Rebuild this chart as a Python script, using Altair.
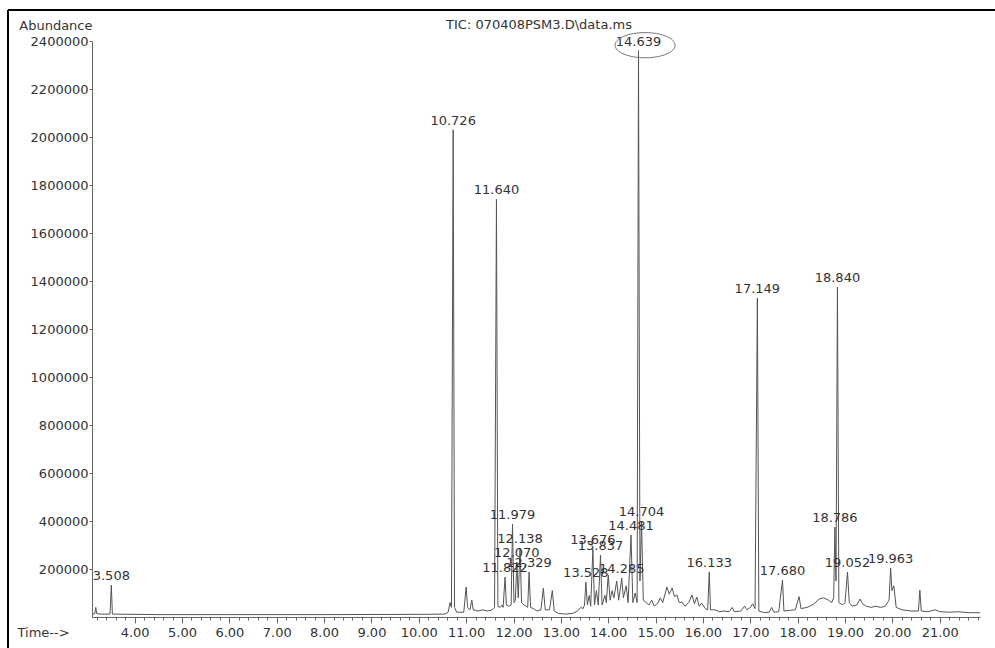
import altair as alt
import pandas as pd

# Total ion chromatogram: retention time (min) against abundance
trace_time = [
    3.12, 3.16, 3.18, 3.20, 3.30, 3.48, 3.508, 3.53, 4.50, 6.00, 8.00, 10.00,
    10.55, 10.62, 10.66, 10.69, 10.726, 10.755, 10.80, 10.95, 11.00, 11.03,
    11.08, 11.12, 11.15, 11.25, 11.35, 11.45, 11.55, 11.60, 11.640, 11.67,
    11.72, 11.76, 11.78, 11.822, 11.85, 11.90, 11.95, 11.979, 12.01, 12.04,
    12.070, 12.10, 12.138, 12.17, 12.22, 12.27, 12.30, 12.329, 12.36, 12.42,
    12.50, 12.58, 12.63, 12.67, 12.76, 12.82, 12.86, 12.95, 13.10, 13.25,
    13.35, 13.42, 13.47, 13.50, 13.528, 13.56, 13.60, 13.63, 13.676, 13.71,
    13.75, 13.79, 13.837, 13.87, 13.93, 13.96, 14.00, 14.04, 14.08, 14.12,
    14.18, 14.22, 14.285, 14.32, 14.38, 14.42, 14.481, 14.52, 14.57, 14.61,
    14.639, 14.67, 14.704, 14.74, 14.80, 14.86, 14.92, 14.97, 15.05, 15.10,
    15.15, 15.24, 15.29, 15.35, 15.40, 15.45, 15.50, 15.56, 15.62, 15.70,
    15.77, 15.82, 15.87, 15.92, 15.97, 16.05, 16.10, 16.133, 16.16, 16.25,
    16.35, 16.45, 16.55, 16.62, 16.66, 16.80, 16.88, 16.93, 17.00, 17.05,
    17.10, 17.149, 17.18, 17.30, 17.40, 17.45, 17.50, 17.60, 17.680, 17.71,
    17.85, 17.95, 18.03, 18.07, 18.20, 18.35, 18.45, 18.55, 18.65, 18.72,
    18.76, 18.786, 18.81, 18.840, 18.87, 18.95, 19.00, 19.052, 19.09, 19.15,
    19.25, 19.32, 19.37, 19.45, 19.55, 19.65, 19.75, 19.85, 19.93, 19.963,
    19.99, 20.03, 20.08, 20.20, 20.40, 20.55, 20.58, 20.61, 20.75, 20.90,
    21.00, 21.20, 21.40, 21.60, 21.85,
]
trace_abundance = [
    12000, 14000, 40000, 14000, 12000, 12000, 133000, 12000, 10000, 10000, 10000, 11000,
    12000, 20000, 60000, 40000, 2030000, 40000, 20000, 20000, 125000, 40000,
    30000, 70000, 30000, 25000, 30000, 25000, 30000, 40000, 1740000, 45000,
    40000, 50000, 40000, 166000, 50000, 45000, 50000, 387000, 60000, 70000,
    229000, 80000, 287000, 60000, 50000, 45000, 40000, 187000, 40000, 35000,
    25000, 30000, 120000, 30000, 30000, 110000, 25000, 15000, 12000, 15000,
    25000, 40000, 35000, 50000, 146000, 50000, 90000, 45000, 283000, 50000,
    110000, 50000, 258000, 50000, 90000, 60000, 175000, 70000, 110000, 80000,
    150000, 70000, 162000, 80000, 130000, 60000, 342000, 60000, 100000, 60000,
    2360000, 150000, 400000, 70000, 60000, 50000, 70000, 45000, 58000, 80000,
    60000, 125000, 95000, 121000, 85000, 92000, 60000, 62000, 45000, 60000,
    92000, 55000, 83000, 45000, 58000, 35000, 30000, 187000, 30000, 30000,
    22000, 25000, 22000, 40000, 22000, 25000, 45000, 30000, 40000, 55000,
    35000, 1329000, 25000, 18000, 20000, 40000, 20000, 22000, 154000, 25000,
    28000, 30000, 85000, 35000, 40000, 55000, 75000, 80000, 70000, 60000,
    80000, 375000, 150000, 1375000, 60000, 50000, 60000, 187000, 60000, 45000,
    50000, 75000, 55000, 45000, 40000, 45000, 40000, 45000, 70000, 204000,
    110000, 130000, 40000, 30000, 25000, 25000, 112000, 25000, 22000, 30000,
    22000, 20000, 22000, 18000, 18000,
]

# Integrated peaks with their apex heights
peak_times = [
    3.508, 10.726, 11.640, 11.822, 11.979, 12.070, 12.138, 12.329, 13.528,
    13.676, 13.837, 14.285, 14.481, 14.639, 14.704, 16.133, 17.149, 17.680,
    18.786, 18.840, 19.052, 19.963,
]
peak_heights = [
    133000, 2030000, 1740000, 166000, 387000, 229000, 287000, 187000, 146000,
    283000, 258000, 162000, 342000, 2360000, 400000, 187000, 1329000, 154000,
    375000, 1375000, 187000, 204000,
]
highlighted_peak = "14.639"

x_major_ticks = list(range(4, 22))
x_minor_ticks = [round(3.2 + 0.2 * i, 1) for i in range(94)]
y_ticks = [200000 * k for k in range(1, 13)]

trace = pd.DataFrame({"time": trace_time, "abundance": trace_abundance})
peaks = pd.DataFrame({
    "time": peak_times,
    "abundance": peak_heights,
    "label": [f"{t:.3f}" for t in peak_times],
})
single = pd.DataFrame({"item": ["sheet"]})

FONT = "DejaVu Sans"
INK = "#333333"
AXIS_GREY = "#666666"

x_scale = alt.Scale(domain=[3.10, 21.85], nice=False, zero=False)
y_scale = alt.Scale(domain=[0, 2400000], nice=False, zero=True)

trace_line = alt.Chart(trace).mark_line(
    color="#555555", strokeWidth=1, interpolate="linear"
).encode(
    x=alt.X(
        "time:Q",
        scale=x_scale,
        axis=alt.Axis(
            orient="bottom",
            values=x_major_ticks,
            format=".2f",
            grid=False,
            domain=True,
            domainColor=AXIS_GREY,
            tickColor=AXIS_GREY,
            tickSize=6,
            labelFont=FONT,
            labelFontSize=13,
            labelColor=INK,
            labelPadding=3,
            labelFlush=False,
            labelOverlap=False,
            title="Time-->",
            titleFont=FONT,
            titleFontSize=13,
            titleFontWeight="normal",
            titleColor=INK,
            titleAlign="left",
            titleBaseline="middle",
            titleX=-75,
            titleY=15,
        ),
    ),
    y=alt.Y(
        "abundance:Q",
        scale=y_scale,
        axis=alt.Axis(
            orient="left",
            values=y_ticks,
            format="d",
            grid=False,
            domain=True,
            domainColor=AXIS_GREY,
            tickColor=AXIS_GREY,
            tickSize=3,
            labelFont=FONT,
            labelFontSize=13,
            labelColor=INK,
            labelPadding=1,
            labelOverlap=False,
            title="Abundance",
            titleFont=FONT,
            titleFontSize=13,
            titleFontWeight="normal",
            titleColor=INK,
            titleAngle=0,
            titleAlign="right",
            titleBaseline="middle",
            titleX=0,
            titleY=-16,
        ),
    ),
)

# Peak retention-time labels; this layer also carries the minor time ticks
peak_labels = alt.Chart(peaks).mark_text(
    baseline="bottom", align="center", dy=-2, font=FONT, fontSize=13, color=INK
).encode(
    x=alt.X(
        "time:Q",
        scale=x_scale,
        axis=alt.Axis(
            orient="bottom",
            values=x_minor_ticks,
            labels=False,
            domain=False,
            grid=False,
            tickColor=AXIS_GREY,
            tickSize=3,
            title=None,
        ),
    ),
    y=alt.Y("abundance:Q", scale=y_scale, axis=None),
    text="label:N",
)

# Hand-drawn ring around the main peak's label
ring_path = "M-0.78,-0.18 A1,0.42 0 1,0 1.22,-0.18 A1,0.42 0 1,0 -0.78,-0.18 Z"
ring = alt.Chart(peaks).transform_filter(
    alt.datum.label == highlighted_peak
).mark_point(
    shape=ring_path, size=3600, filled=False, stroke="#777777", strokeWidth=1, opacity=1
).encode(
    x=alt.X("time:Q", scale=x_scale, axis=None),
    y=alt.Y("abundance:Q", scale=y_scale, axis=None),
)

heading = alt.Chart(single).mark_text(
    font=FONT, fontSize=13, color=INK, align="center", baseline="middle"
).encode(
    x=alt.value(447),
    y=alt.value(-16),
    text=alt.value("TIC: 070408PSM3.D\\data.ms"),
)

# Sheet border (top and left edges)
border_top = alt.Chart(single).mark_rule(color="black", strokeWidth=2).encode(
    x=alt.value(-84), x2=alt.value(903), y=alt.value(-31)
)
border_left = alt.Chart(single).mark_rule(color="black", strokeWidth=2).encode(
    x=alt.value(-84), y=alt.value(-31), y2=alt.value(607)
)

chart = alt.layer(
    trace_line, peak_labels, ring, heading, border_top, border_left
).resolve_axis(
    x="independent", y="independent"
).properties(
    width=888,
    height=576,
    padding={"left": 92, "top": 41, "right": 15, "bottom": 31},
    autosize=alt.AutoSizeParams(type="none"),
    background="white",
).configure_view(
    stroke=None
)

chart.save("out.html", embed_options={"renderer": "svg", "actions": False})
